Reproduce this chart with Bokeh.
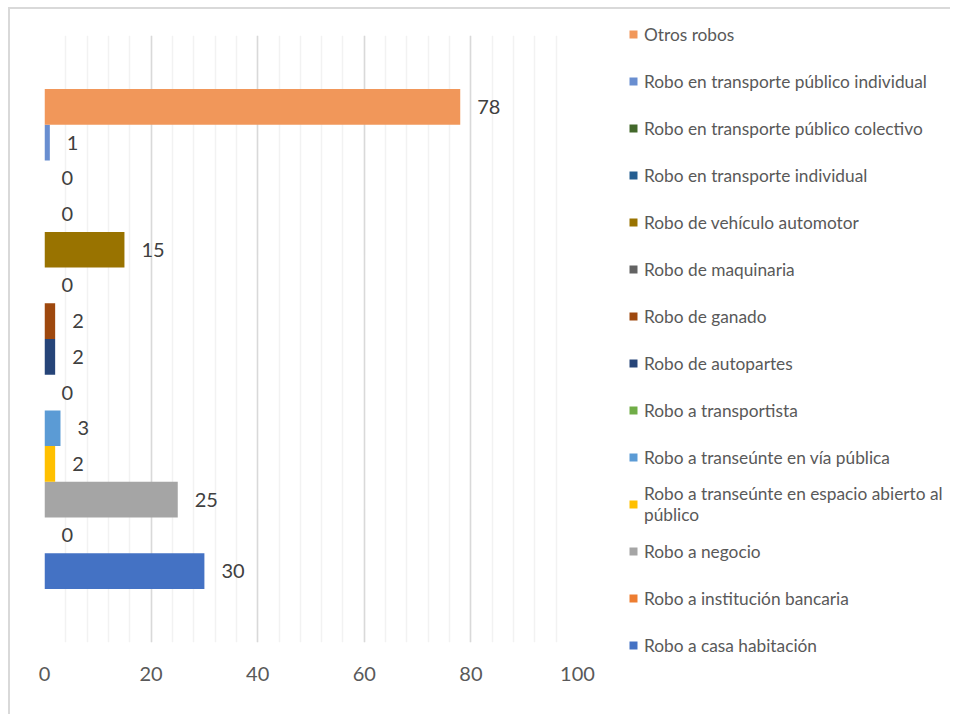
from bokeh.plotting import figure
from bokeh.layouts import row
from bokeh.models import (ColumnDataSource, Range1d, SingleIntervalTicker, Legend, LegendItem)
from bokeh.core.properties import value
from bokeh.embed import file_html
from bokeh.resources import INLINE

# Data (bottom to top)
categories = [
    "Robo a casa habitación",
    "Robo a institución bancaria",
    "Robo a negocio",
    "Robo a transeúnte en espacio abierto al\npúblico",
    "Robo a transeúnte en vía pública",
    "Robo a transportista",
    "Robo de autopartes",
    "Robo de ganado",
    "Robo de maquinaria",
    "Robo de vehículo automotor",
    "Robo en transporte individual",
    "Robo en transporte público colectivo",
    "Robo en transporte público individual",
    "Otros robos",
]
values = [30, 0, 25, 2, 3, 0, 2, 2, 0, 15, 0, 0, 1, 78]
colors = ["#4472C4", "#ED7D31", "#A5A5A5", "#FFC000", "#5B9BD5", "#70AD47",
          "#264478", "#9E480E", "#636363", "#997300", "#255E91", "#43682B",
          "#698ED0", "#F1975A"]
x_ticks_interval = 20

n = len(categories)
source = ColumnDataSource(dict(
    y=list(range(n)),
    values=values,
    labels=[str(v) for v in values],
    colors=colors,
    cats=categories,
))

H = 705
# ---- chart ----
p = figure(width=600, height=H, output_backend="svg", toolbar_location=None,
           x_range=Range1d(0, 100), y_range=Range1d(-2, n + 1),
           min_border_left=34, min_border_right=33, min_border_top=26, min_border_bottom=72)
p.outline_line_alpha = 0
p.background_fill_color = "white"
p.border_fill_color = "white"

r = p.hbar(y="y", left=0, right="values", height=1, fill_color="colors", line_color=None,
           source=source)

p.text(x="values", y="y", text="labels", source=source, x_offset=17,
       text_baseline="middle", text_align="left",
       text_font=value("Lato"), text_font_size="20px", text_color="#404040")

ticker = SingleIntervalTicker(interval=x_ticks_interval, num_minor_ticks=5)
p.xaxis.ticker = ticker
p.xgrid.ticker = ticker
p.xgrid.grid_line_color = "#D9D9D9"
p.xgrid.grid_line_width = 1.5
p.xgrid.minor_grid_line_color = "#F2F2F2"
p.xgrid.minor_grid_line_width = 1.5
p.ygrid.visible = False
p.yaxis.visible = False
p.xaxis.axis_line_alpha = 0
p.xaxis.major_tick_line_alpha = 0
p.xaxis.minor_tick_line_alpha = 0
p.xaxis.major_tick_out = 0
p.xaxis.major_tick_in = 0
p.xaxis.minor_tick_out = 0
p.xaxis.major_label_standoff = 24
p.xaxis.major_label_text_font = "Lato"
p.xaxis.major_label_text_font_size = "20px"
p.xaxis.major_label_text_color = "#595959"

# ---- legend panel ----
q = figure(frame_width=340, frame_height=H, output_backend="svg", toolbar_location=None,
           x_range=Range1d(-10, -9), y_range=Range1d(-2, n + 1),
           x_axis_location=None, y_axis_location=None,
           min_border_left=0, min_border_right=0, min_border_top=0, min_border_bottom=0)
q.grid.visible = False
q.outline_line_alpha = 0
q.background_fill_color = "white"
q.border_fill_color = "white"
for fig in (p, q):
    if "frame_align" in fig.properties():
        fig.frame_align = False
rq = q.hbar(y="y", left=0, right="values", height=1, fill_color="colors", line_color=None,
            source=source)

item_h = 42
gap = 5
items = [LegendItem(label=categories[i], renderers=[rq], index=i) for i in reversed(range(n))]
legend_h = n * item_h + (n - 1) * gap
legend = Legend(items=items, location=(18, H - 4 - legend_h),
                glyph_width=10, glyph_height=10, label_standoff=6,
                label_height=item_h, spacing=gap,
                padding=0, margin=0, border_line_alpha=0, background_fill_alpha=0,
                label_text_font="Lato", label_text_font_size="17.3px",
                label_text_color="#595959")
q.add_layout(legend, "center")

layout = row(p, q, styles={"margin-left": "8px", "margin-top": "7px",
                           "border-left": "2px solid #D9D9D9",
                           "border-top": "2px solid #D9D9D9"})

open("out.html", "w").write(file_html(layout, INLINE))
